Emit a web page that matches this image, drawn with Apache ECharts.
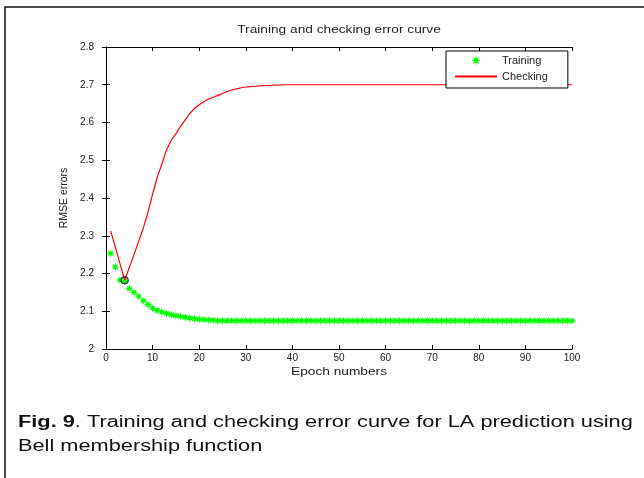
<!DOCTYPE html>
<html>
<head>
<meta charset="utf-8">
<script src="https://cdn.jsdelivr.net/npm/echarts@6/dist/echarts.min.js"></script>
<style>
  html, body { margin: 0; padding: 0; background: #fff; }
  #chart { width: 644px; height: 478px; }
</style>
</head>
<body>
<div id="chart"></div>
<script>
// Epoch index (1..100)
var epochs = [
  1,2,3,4,5,6,7,8,9,10,11,12,13,14,15,16,17,18,19,20,
  21,22,23,24,25,26,27,28,29,30,31,32,33,34,35,36,37,38,39,40,
  41,42,43,44,45,46,47,48,49,50,51,52,53,54,55,56,57,58,59,60,
  61,62,63,64,65,66,67,68,69,70,71,72,73,74,75,76,77,78,79,80,
  81,82,83,84,85,86,87,88,89,90,91,92,93,94,95,96,97,98,99,100
];

// RMSE on training data per epoch
var trainingErr = [
  2.253,2.217,2.183,2.180,2.160,2.150,2.140,2.128,2.118,2.108,
  2.102,2.098,2.094,2.091,2.088,2.086,2.084,2.082,2.080,2.079,
  2.078,2.077,2.076,2.075,2.075,2.075,2.075,2.075,2.075,2.075,
  2.075,2.075,2.075,2.075,2.075,2.075,2.075,2.075,2.075,2.075,
  2.075,2.075,2.075,2.075,2.075,2.075,2.075,2.075,2.075,2.075,
  2.075,2.075,2.075,2.075,2.075,2.075,2.075,2.075,2.075,2.075,
  2.075,2.075,2.075,2.075,2.075,2.075,2.075,2.075,2.075,2.075,
  2.075,2.075,2.075,2.075,2.075,2.075,2.075,2.075,2.075,2.075,
  2.075,2.075,2.075,2.075,2.075,2.075,2.075,2.075,2.075,2.075,
  2.075,2.075,2.075,2.075,2.075,2.075,2.075,2.075,2.075,2.075
];

// RMSE on checking data per epoch
var checkingErr = [
  2.313,2.270,2.226,2.183,2.215,2.250,2.285,2.320,2.362,2.410,
  2.455,2.490,2.528,2.553,2.570,2.590,2.607,2.624,2.637,2.647,
  2.655,2.662,2.667,2.672,2.677,2.682,2.686,2.689,2.692,2.694,
  2.695,2.696,2.697,2.698,2.698,2.699,2.699,2.700,2.700,2.700,
  2.700,2.700,2.700,2.700,2.700,2.700,2.700,2.700,2.700,2.700,
  2.700,2.700,2.700,2.700,2.700,2.700,2.700,2.700,2.700,2.700,
  2.700,2.700,2.700,2.700,2.700,2.700,2.700,2.700,2.700,2.700,
  2.700,2.700,2.700,2.700,2.700,2.700,2.700,2.700,2.700,2.700,
  2.700,2.700,2.700,2.700,2.700,2.700,2.700,2.700,2.700,2.700,
  2.700,2.700,2.700,2.700,2.700,2.700,2.700,2.700,2.700,2.700
];

// Epoch with minimum checking error
var minCheckEpoch = [4];
var minCheckValue = [2.182];

var seriesNames = ['Training', 'Checking'];
var chartTitle = 'Training and checking error curve';
var xName = 'Epoch numbers';
var yName = 'RMSE errors';
var captionBold = 'Fig. 9';
var captionLine1 = '. Training and checking error curve for LA prediction using';
var captionLine2 = 'Bell membership function';

var FONT = '"Liberation Sans", Arial, Helvetica, sans-serif';
var STRETCH = 1.37;

// 8-spoke asterisk marker
var asterisk = 'path://M100 50L70.3 58.4L85.4 85.4L58.4 70.3L50 100L41.6 70.3L14.6 85.4L29.7 58.4L0 50L29.7 41.6L14.6 14.6L41.6 29.7L50 0L58.4 29.7L85.4 14.6L70.3 41.6Z';

function pairs(xs, ys) {
  return xs.map(function (x, i) { return [x, ys[i]]; });
}

var chart = echarts.init(document.getElementById('chart'), null, { renderer: 'canvas' });

var tickStyle = { show: true, inside: true, length: 4, lineStyle: { color: '#000', width: 1 } };
var lineStyleAxis = { show: true, lineStyle: { color: '#000', width: 1 } };

chart.setOption({
  backgroundColor: '#fff',
  animation: false,
  grid: { left: 106, right: 72, top: 47, bottom: 129, containLabel: false },
  legend: {
    data: [
      { name: seriesNames[0] },
      { name: seriesNames[1], itemStyle: { opacity: 0 } }
    ],
    orient: 'vertical',
    left: 446,
    top: 51,
    padding: [4, 20, 6, 8],
    itemWidth: 42,
    itemHeight: 12,
    itemGap: 5,
    backgroundColor: '#fff',
    borderColor: '#000',
    borderWidth: 1,
    borderRadius: 0,
    textStyle: { fontFamily: FONT, fontSize: 11, color: '#222', padding: [0, 0, 0, 0] }
  },
  xAxis: [{
    type: 'value', min: 0, max: 100, interval: 10,
    axisLine: lineStyleAxis, axisTick: tickStyle, splitLine: { show: false },
    axisLabel: { fontFamily: FONT, fontSize: 10, color: '#222', margin: 4 }
  }, {
    type: 'value', position: 'top', min: 0, max: 100, interval: 10,
    axisLine: lineStyleAxis, axisTick: tickStyle, splitLine: { show: false },
    axisLabel: { show: false }
  }],
  yAxis: [{
    type: 'value', min: 2, max: 2.8, interval: 0.1,
    name: yName, nameLocation: 'middle', nameGap: 36, nameRotate: 90,
    nameTextStyle: { fontFamily: FONT, fontSize: 10.5, color: '#222' },
    axisLine: lineStyleAxis, axisTick: tickStyle, splitLine: { show: false },
    axisLabel: {
      fontFamily: FONT, fontSize: 10, color: '#222', margin: 12,
      formatter: function (v) { return String(+v.toFixed(1)); }
    }
  }, {
    type: 'value', position: 'right', min: 2, max: 2.8, interval: 0.1,
    axisLine: lineStyleAxis, axisTick: tickStyle, splitLine: { show: false },
    axisLabel: { show: false }
  }],
  graphic: [
    { type: 'polyline', silent: true, z: 100,
      shape: { points: [[5, 478], [5, 7], [644, 7]] },
      style: { stroke: '#111', lineWidth: 1.5, fill: null } },
    { type: 'text', x: 339, y: 30, scaleX: STRETCH,
      style: { text: chartTitle, font: '10px ' + FONT, fill: '#222',
               textAlign: 'center', textVerticalAlign: 'middle' } },
    { type: 'text', x: 339, y: 372, scaleX: STRETCH,
      style: { text: xName, font: '10px ' + FONT, fill: '#222',
               textAlign: 'center', textVerticalAlign: 'middle' } },
    { type: 'text', x: 18, y: 423, scaleX: 1.36,
      style: { text: '{b|' + captionBold + '}' + captionLine1,
               font: '16px ' + FONT, fill: '#111', textVerticalAlign: 'middle',
               rich: { b: { fontWeight: 'bold', fontSize: 16, fontFamily: FONT, fill: '#111' } } } },
    { type: 'text', x: 18, y: 447, scaleX: 1.36,
      style: { text: captionLine2, font: '16px ' + FONT, fill: '#111', textVerticalAlign: 'middle' } }
  ],
  series: [{
    name: seriesNames[0],
    type: 'line',
    data: pairs(epochs, trainingErr),
    symbol: asterisk,
    symbolSize: 8.5,
    showSymbol: true,
    showAllSymbol: true,
    lineStyle: { width: 0, opacity: 0 },
    itemStyle: { color: '#00ff00' },
    z: 2
  }, {
    name: seriesNames[1],
    type: 'line',
    data: pairs(epochs, checkingErr),
    symbol: 'none',
    lineStyle: { color: '#ff0000', width: 1.2 },
    itemStyle: { color: '#ff0000' },
    z: 3
  }, {
    name: 'minimum',
    type: 'scatter',
    data: pairs(minCheckEpoch, minCheckValue),
    symbol: 'circle',
    symbolSize: 7,
    itemStyle: { color: 'rgba(0,0,0,0)', borderColor: '#000', borderWidth: 1.2 },
    z: 4
  }]
});
</script>
</body>
</html>
